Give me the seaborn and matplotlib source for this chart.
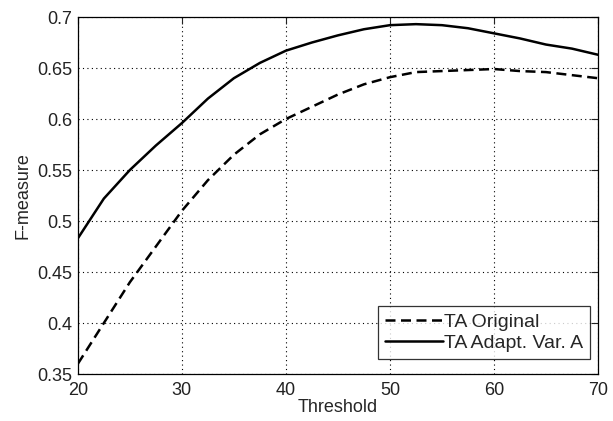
import numpy as np
import pandas as pd
import matplotlib
matplotlib.use("Agg")
import matplotlib.pyplot as plt
import seaborn as sns

# Значения
threshold = [20, 22.5, 25, 27.5, 30, 32.5, 35, 37.5, 40, 42.5, 45,
             47.5, 50, 52.5, 55, 57.5, 60, 62.5, 65, 67.5, 70]
ta_original = [0.360, 0.400, 0.440, 0.475, 0.510, 0.540, 0.565, 0.585,
               0.600, 0.612, 0.624, 0.634, 0.641, 0.646, 0.647, 0.648,
               0.649, 0.647, 0.646, 0.643, 0.640]
ta_adapt = [0.483, 0.522, 0.550, 0.574, 0.596, 0.620, 0.640, 0.655,
            0.667, 0.675, 0.682, 0.688, 0.692, 0.693, 0.692, 0.689,
            0.684, 0.679, 0.673, 0.669, 0.663]
series_names = ["TA Original", "TA Adapt. Var. A"]

df = pd.DataFrame({
    "Threshold": threshold * 2,
    "F-measure": ta_original + ta_adapt,
    "series": [series_names[0]] * len(threshold) + [series_names[1]] * len(threshold),
})

sns.set_style("white")
plt.rcParams['font.family'] = ['Liberation Sans', 'DejaVu Sans']
fs = 13

fig = plt.figure(figsize=(6.13, 4.21), dpi=100)
ax = fig.add_axes([0.127, 0.1116, 0.8485, 0.848])

sns.lineplot(data=df, x="Threshold", y="F-measure", hue="series", style="series",
             palette=["black", "black"], dashes=[(4, 2.2), ""], linewidth=1.8,
             ax=ax, legend=True)

ax.set_xlim(20, 70)
ax.set_ylim(0.35, 0.7)
ax.set_xticks([20, 30, 40, 50, 60, 70])
ax.set_yticks([0.35, 0.4, 0.45, 0.5, 0.55, 0.6, 0.65, 0.7])
ax.set_xticklabels(["20", "30", "40", "50", "60", "70"])
ax.set_yticklabels(["0.35", "0.4", "0.45", "0.5", "0.55", "0.6", "0.65", "0.7"])
ax.grid(True, linestyle=(0, (1, 3)), color="black", linewidth=0.8)
ax.tick_params(direction="in", length=5, top=True, right=True, labelsize=fs,
               colors="#222222")
ax.tick_params(axis="x", pad=6)
ax.tick_params(axis="y", pad=4)
for s in ax.spines.values():
    s.set_color("black")
    s.set_linewidth(0.9)
ax.set_xlabel("Threshold", fontsize=fs, labelpad=0)
ax.set_ylabel("F-measure", fontsize=fs, labelpad=4)

leg = ax.legend(loc="lower right", bbox_to_anchor=(0.985, 0.042), frameon=True,
                fancybox=False, fontsize=14, handlelength=3.0, handletextpad=0.05,
                borderpad=0.35, labelspacing=0.2, borderaxespad=0)
leg.get_frame().set_edgecolor("black")
leg.get_frame().set_linewidth(0.9)

fig.savefig("out.png", dpi=100)
